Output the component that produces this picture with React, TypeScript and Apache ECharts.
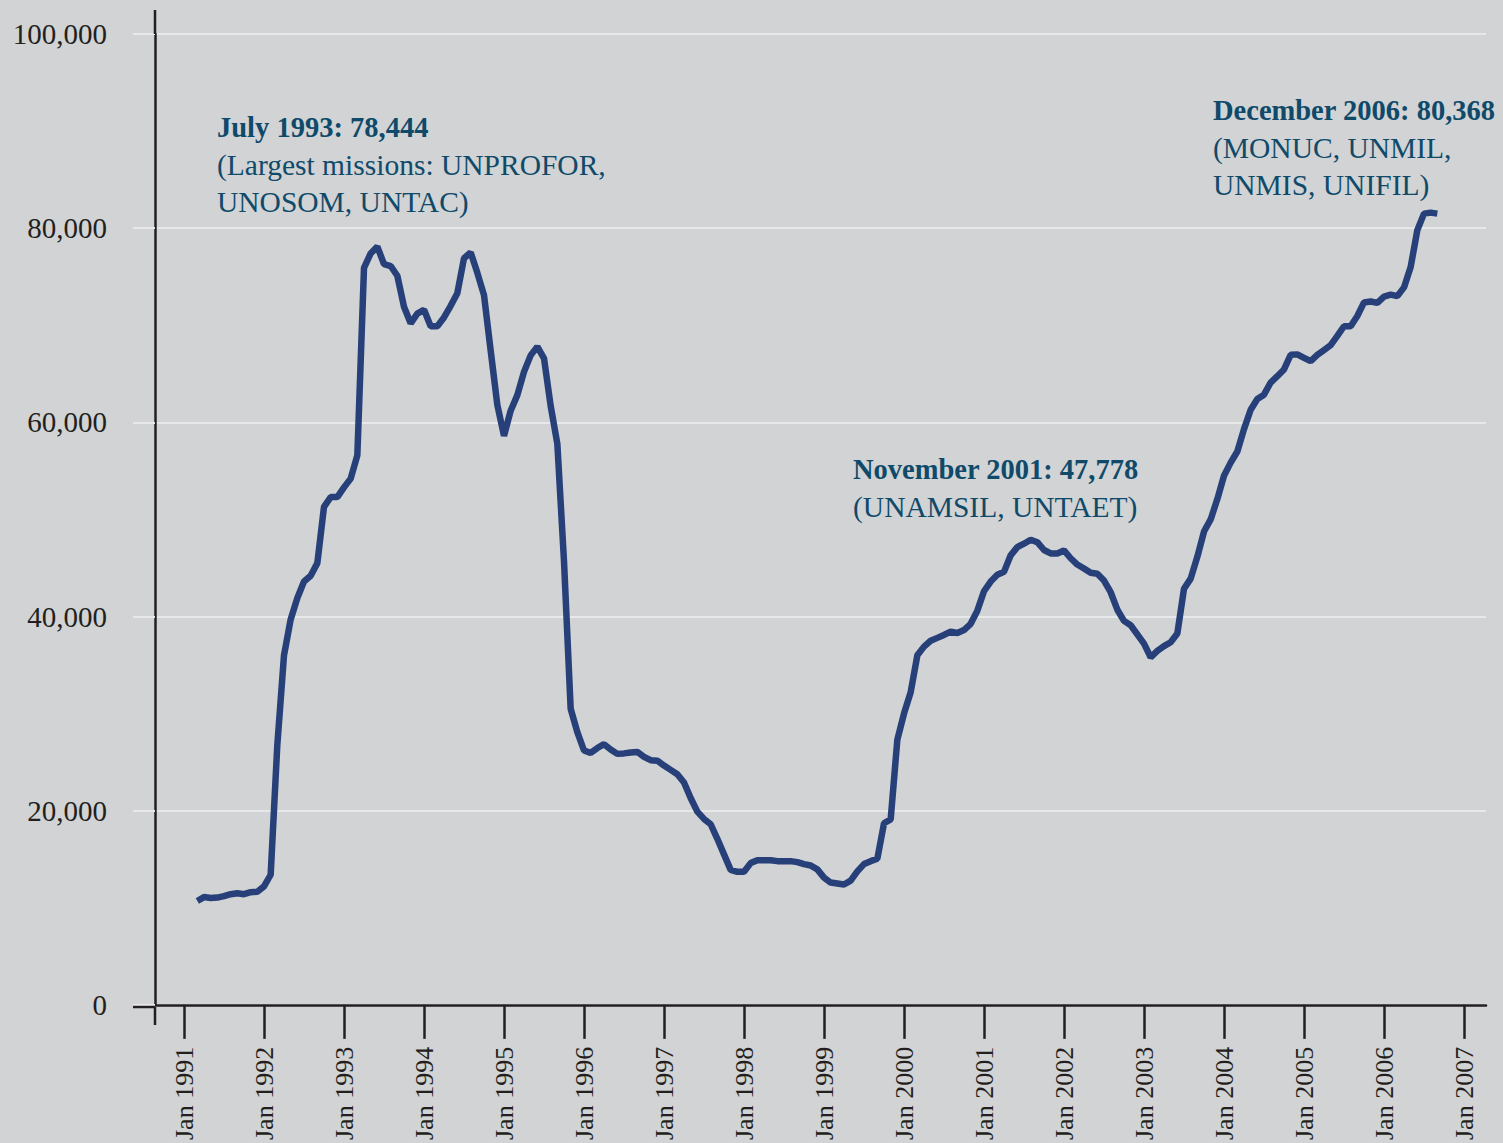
import React, { useEffect, useRef } from "react";
import * as echarts from "echarts";

// First data month of the series (March 1991); monthly values follow
const firstYear = 1991;
const firstMonth = 3;

// Peacekeeping personnel, monthly, Mar 1991 – Sep 2006 (as drawn)
const personnel = [
  10700, 11100, 11000, 11050, 11200, 11400, 11500, 11400, 11600, 11650,
  12200, 13400, 26800, 36000, 39700, 41900, 43600, 44200, 45500, 51300, 52300, 52300,
  53300, 54200, 56600, 75900, 77400, 78100, 76300, 76100, 75100, 71900, 70200, 71200,
  71600, 69900, 69900, 70800, 72000, 73300, 76900, 77500, 75400, 73100, 67400, 61800,
  58600, 61200, 62800, 65200, 66900, 67800, 66600, 61700, 57800, 45700, 30500, 28100,
  26200, 25950, 26450, 26850, 26300, 25850, 25900, 26000, 26050, 25550, 25200, 25150,
  24650, 24200, 23750, 22900, 21300, 19900, 19150, 18600, 17100, 15500, 13900, 13700,
  13700, 14600, 14900, 14900, 14900, 14800, 14800, 14800, 14700, 14500, 14350, 13950,
  13100, 12600, 12500, 12400, 12800, 13750, 14500, 14800, 15050, 18700, 19100, 27300,
  30000, 32200, 36000, 36900, 37500, 37800, 38100, 38450, 38300, 38600, 39250, 40600,
  42600, 43600, 44300, 44600, 46300, 47150, 47500, 47900, 47650, 46850, 46500, 46500,
  46800, 46000, 45350, 44950, 44500, 44400, 43700, 42500, 40700, 39550, 39100, 38150,
  37200, 35800, 36450, 36950, 37350, 38250, 42850, 43900, 46150, 48750, 50000, 52100,
  54500, 55850, 57000, 59300, 61300, 62400, 62850, 64100, 64750, 65450, 66950, 67000,
  66650, 66300, 66950, 67450, 67950, 68900, 69900, 69900, 70950, 72350, 72450, 72300,
  72950, 73150, 73000, 73900, 76000, 79800, 81500, 81600, 81500,
];

// X-axis tick labels (one per January)
const tickYears = [
  1991, 1992, 1993, 1994, 1995, 1996, 1997, 1998, 1999,
  2000, 2001, 2002, 2003, 2004, 2005, 2006, 2007,
];
const tickLabels = tickYears.map((y) => "Jan " + y);

// Y-axis
const yTicks = [0, 20000, 40000, 60000, 80000, 100000];

// Annotations
const annotations = [
  { title: "July 1993: 78,444", lines: ["(Largest missions: UNPROFOR,", "UNOSOM, UNTAC)"] },
  { title: "November 2001: 47,778", lines: ["(UNAMSIL, UNTAET)"] },
  { title: "December 2006: 80,368", lines: ["(MONUC, UNMIL,", "UNMIS, UNIFIL)"] },
];
const annotationPos = [
  { x: 217, y: 127 },
  { x: 853, y: 469 },
  { x: 1213, y: 110 },
];

const BG = "#d1d3d4";
const GRID = "#e7e8e9";
const AXIS = "#231f20";
const LINE = "#27407a";
const NOTE = "#0f4a6a";
const FONT = '"Liberation Serif", "Times New Roman", serif';

export default function App() {
  const ref = useRef<HTMLDivElement>(null);

  useEffect(() => {
    document.body.style.margin = "0";
    document.body.style.background = BG;
    if (!ref.current) return;
    const chart = echarts.init(ref.current, undefined, { renderer: "svg" });

    const seriesData = personnel.map((v, i) => {
      const monthIndex = (firstYear - 1991) * 12 + (firstMonth - 1) + i;
      return [monthIndex, v];
    });
    const tickValues = tickYears.map((y) => (y - 1991) * 12);

    const lineH = 37.5;
    const graphics: any[] = [
      // y-axis extensions above and below the plot area
      { type: "line", shape: { x1: 155, y1: 10, x2: 155, y2: 34 }, style: { stroke: AXIS, lineWidth: 2.5 }, z: 10 },
      { type: "line", shape: { x1: 155, y1: 1007, x2: 155, y2: 1025 }, style: { stroke: AXIS, lineWidth: 2.5 }, z: 10 },
      { type: "line", shape: { x1: 133, y1: 1007, x2: 155, y2: 1007 }, style: { stroke: AXIS, lineWidth: 2.5 }, z: 10 },
    ];
    annotations.forEach((a, k) => {
      const p = annotationPos[k];
      graphics.push({
        type: "text",
        x: p.x,
        y: p.y,
        z: 20,
        style: {
          text: a.title,
          fill: NOTE,
          font: `bold 28.5px ${FONT}`,
          textVerticalAlign: "middle",
          verticalAlign: "middle",
        },
      });
      a.lines.forEach((ln, j) => {
        graphics.push({
          type: "text",
          x: p.x,
          y: p.y + lineH * (j + 1),
          z: 20,
          style: {
            text: ln,
            fill: NOTE,
            font: `29.5px ${FONT}`,
            textVerticalAlign: "middle",
            verticalAlign: "middle",
          },
        });
      });
    });

    chart.setOption({
      animation: false,
      backgroundColor: BG,
      grid: { left: 155, right: 17, top: 34, bottom: 136, containLabel: false },
      xAxis: {
        type: "value",
        min: -4.35,
        max: 195.3,
        splitLine: { show: false },
        axisLine: { show: true, onZero: false, lineStyle: { color: AXIS, width: 2.5 } },
        axisTick: {
          show: true,
          customValues: tickValues,
          length: 34,
          lineStyle: { color: AXIS, width: 2.5 },
        },
        axisLabel: {
          customValues: tickValues,
          rotate: 90,
          margin: 42,
          fontSize: 26,
          fontFamily: FONT,
          color: AXIS,
          formatter: (v: number) => tickLabels[Math.round(v / 12)] ?? "",
        },
      },
      yAxis: {
        type: "value",
        min: 0,
        max: 100000,
        interval: 20000,
        axisLine: { show: true, onZero: false, lineStyle: { color: AXIS, width: 2.5 } },
        axisTick: { show: true, length: 22, lineStyle: { color: GRID, width: 2 } },
        splitLine: { show: true, lineStyle: { color: GRID, width: 2 } },
        axisLabel: {
          margin: 48,
          fontSize: 29,
          fontFamily: FONT,
          color: AXIS,
          formatter: (v: number) => (yTicks.includes(v) ? v.toLocaleString("en-US") : ""),
        },
      },
      series: [
        {
          type: "line",
          data: seriesData,
          showSymbol: false,
          symbol: "none",
          lineStyle: { color: LINE, width: 6.5, join: "bevel", cap: "butt" },
          z: 5,
        },
      ],
      graphic: graphics,
    });

    return () => chart.dispose();
  }, []);

  return <div ref={ref} style={{ width: 1503, height: 1143 }} />;
}
